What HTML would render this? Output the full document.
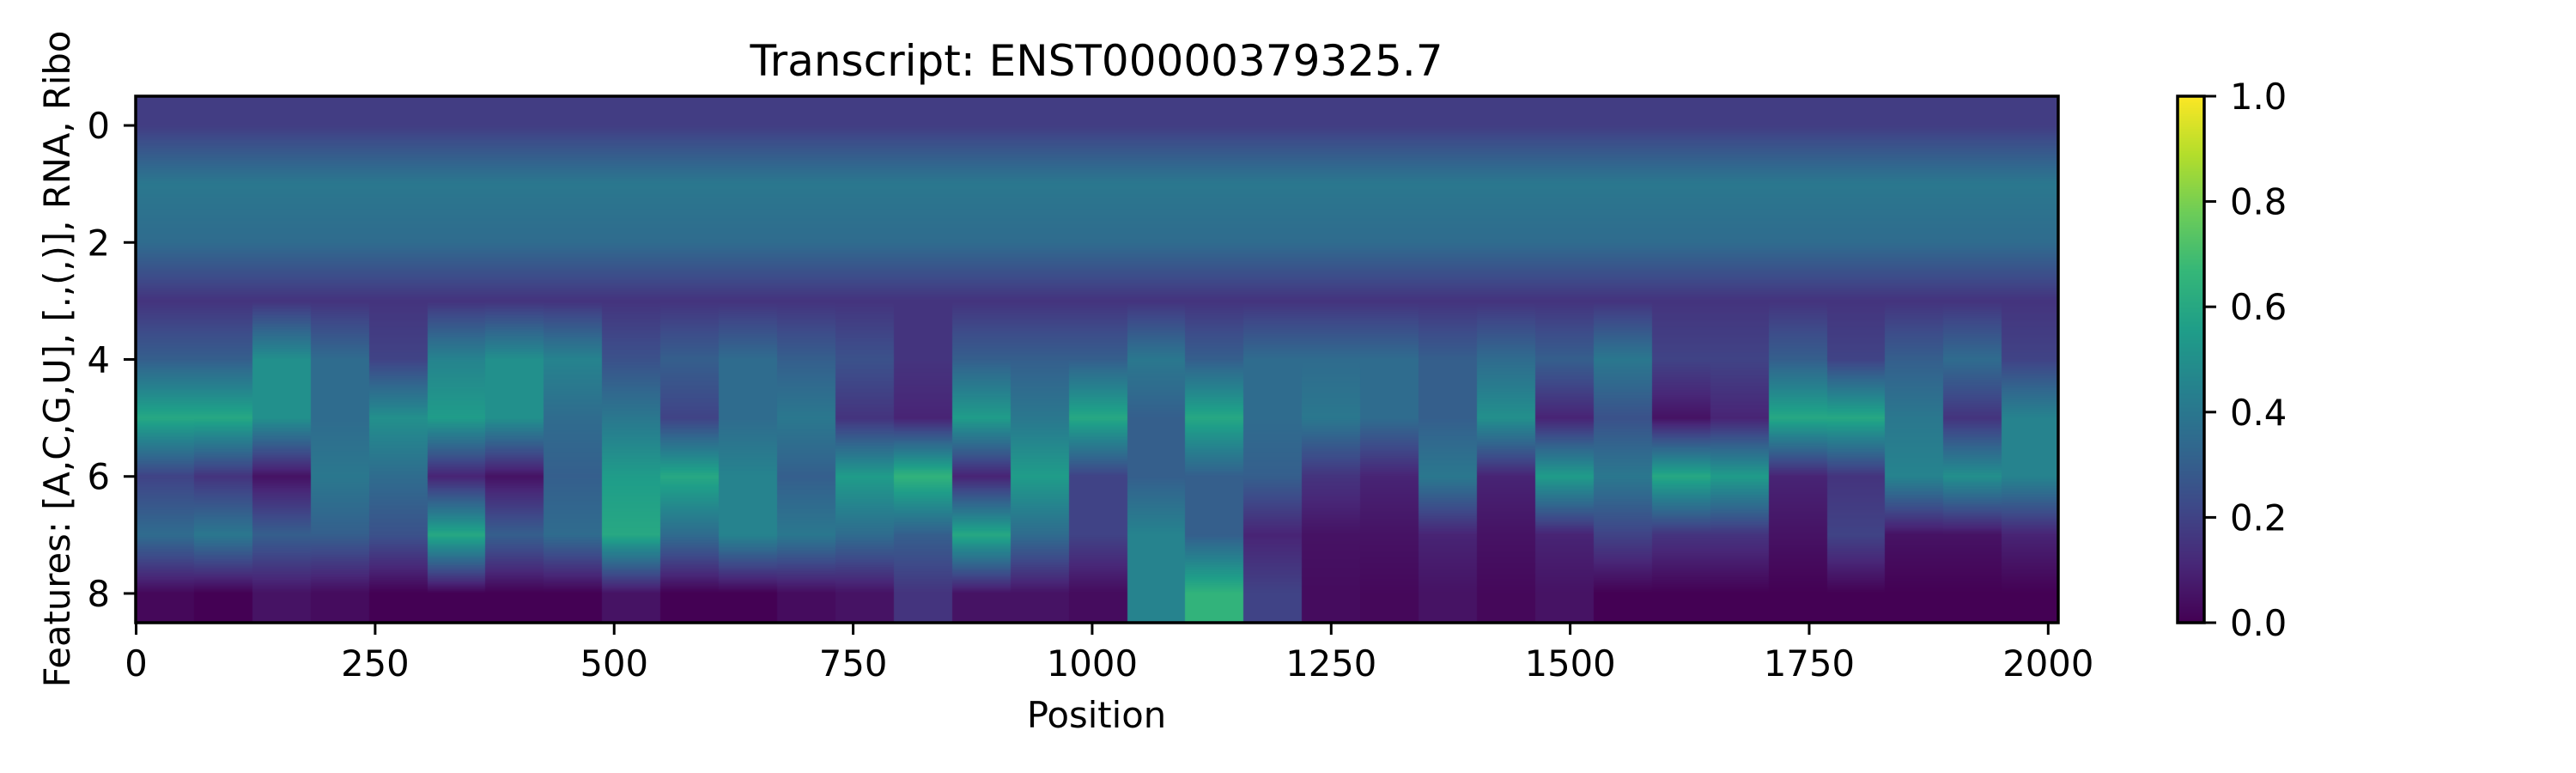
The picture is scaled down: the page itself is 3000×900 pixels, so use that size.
<!DOCTYPE html>
<html><head><meta charset="utf-8">
<style>
body{margin:0;background:#fff;}
#wrap{position:relative;width:3000px;height:900px;overflow:hidden;font-family:"DejaVu Sans","Liberation Sans",sans-serif;color:#000;}
.t{position:absolute;white-space:nowrap;font-size:41.7px;line-height:1;}
</style></head>
<body>
<div id="wrap">
<div class="t" style="left:1277px;top:46px;font-size:50px;transform:translateX(-50%);">Transcript: ENST00000379325.7</div>
<canvas id="hm" width="2239" height="613" style="position:absolute;left:158px;top:112px;"></canvas>
<canvas id="cb" width="31" height="613" style="position:absolute;left:2536px;top:112px;"></canvas>
<svg id="ov" width="3000" height="900" style="position:absolute;left:0;top:0;"></svg>
<div class="t" style="left:1277px;top:812px;transform:translateX(-50%);">Position</div>
<div class="t" style="left:67px;top:418px;transform:translate(-50%,-50%) rotate(-90deg);">Features: [A,C,G,U], [.,(,)], RNA, Ribo</div>
</div>
<script>
// ---- data (segment averages, 61 positions per segment) ----
const nPositions = 2011;
const segSize = 61;
const rowA = [0.18,0.18,0.18,0.18,0.18,0.18,0.18,0.18,0.18,0.18,0.18,0.18,0.18,0.18,0.18,0.18,0.18,0.18,0.18,0.18,0.18,0.18,0.18,0.18,0.18,0.18,0.18,0.18,0.18,0.18,0.18,0.18,0.18];
const rowC = [0.4,0.4,0.4,0.4,0.4,0.4,0.4,0.4,0.4,0.4,0.4,0.4,0.4,0.4,0.4,0.4,0.4,0.4,0.4,0.4,0.4,0.4,0.4,0.4,0.4,0.4,0.4,0.4,0.4,0.4,0.4,0.4,0.4];
const rowG = [0.35,0.35,0.35,0.35,0.35,0.35,0.35,0.35,0.35,0.35,0.35,0.35,0.35,0.35,0.35,0.35,0.35,0.35,0.35,0.35,0.35,0.35,0.35,0.35,0.35,0.35,0.35,0.35,0.35,0.35,0.35,0.35,0.35];
const rowU = [0.15,0.15,0.15,0.15,0.15,0.15,0.15,0.15,0.15,0.15,0.15,0.15,0.15,0.15,0.15,0.15,0.15,0.15,0.15,0.15,0.15,0.15,0.15,0.15,0.15,0.15,0.15,0.15,0.15,0.15,0.15,0.15,0.15];
const rowDot = [0.3,0.3,0.5,0.35,0.2,0.45,0.5,0.45,0.25,0.3,0.35, 0.3,0.25,0.15,0.3,0.3,0.3,0.4,0.3,0.35,0.35,0.35, 0.3,0.35,0.3,0.4,0.2,0.2,0.3,0.2,0.3,0.35,0.2];
const rowOpen = [0.6,0.6,0.5,0.35,0.5,0.55,0.5,0.35,0.4,0.2,0.35, 0.4,0.15,0.1,0.55,0.4,0.6,0.3,0.6,0.35,0.4,0.35, 0.3,0.5,0.1,0.25,0.05,0.1,0.6,0.6,0.4,0.15,0.45];
const rowClose = [0.2,0.15,0.05,0.4,0.35,0.1,0.05,0.3,0.55,0.6,0.45, 0.3,0.55,0.65,0.1,0.55,0.2,0.3,0.3,0.3,0.15,0.1, 0.4,0.1,0.55,0.4,0.6,0.55,0.1,0.15,0.45,0.5,0.45];
const rowRNA = [0.35,0.4,0.3,0.3,0.25,0.6,0.3,0.35,0.6,0.35,0.45, 0.4,0.35,0.3,0.6,0.35,0.2,0.45,0.3,0.1,0.05,0.05, 0.1,0.05,0.1,0.2,0.15,0.15,0.05,0.2,0.05,0.05,0.1];
const rowRibo = [0.02,0,0.05,0.03,0,0,0,0,0.05,0,0, 0.03,0.05,0.15,0.05,0.05,0.03,0.45,0.65,0.2,0.03,0.02, 0.05,0.02,0.05,0,0,0,0,0,0,0,0];
const rows = [rowA,rowC,rowG,rowU,rowDot,rowOpen,rowClose,rowRNA,rowRibo];
const xTicks = [0,250,500,750,1000,1250,1500,1750,2000];
const yTicks = [0,2,4,6,8];
const cbTicks = [0.0,0.2,0.4,0.6,0.8,1.0];

// ---- scales ----
const X0=158, X1=2397, Y0=112, Y1=725;
const xs = v => X0 + (v+0.5)/(nPositions)*(X1-X0);
const ys = r => Y0 + (r+0.5)/9*(Y1-Y0);
const cbY = v => Y1 - v*(Y1-Y0);

const vir=[[68,1,84],[72,40,120],[62,74,137],[49,104,142],[38,130,142],[31,158,137],[53,183,121],[109,205,89],[180,222,44],[253,231,37]];
function cmap(v){v=Math.max(0,Math.min(1,v))*9;const i=Math.min(8,Math.floor(v)),f=v-i;const a=vir[i],b=vir[i+1];return [a[0]+(b[0]-a[0])*f,a[1]+(b[1]-a[1])*f,a[2]+(b[2]-a[2])*f];}

// heatmap
const hc=document.getElementById('hm'),hx=hc.getContext('2d');
const W=hc.width,H=hc.height,img=hx.createImageData(W,H);
for(let px=0;px<W;px++){
  const pos=(px+0.5)/W*nPositions-0.5;
  const s=Math.min(rows[0].length-1,Math.max(0,Math.floor((pos+0.5)/segSize)));
  for(let py=0;py<H;py++){
    let r=(py+0.5)/H*9-0.5; r=Math.max(0,Math.min(8,r));
    const i=Math.min(7,Math.floor(r)),f=r-i;
    const v=rows[i][s]*(1-f)+rows[i+1][s]*f;
    const c=cmap(v),k=(py*W+px)*4;
    img.data[k]=c[0];img.data[k+1]=c[1];img.data[k+2]=c[2];img.data[k+3]=255;
  }
}
hx.putImageData(img,0,0);
// colorbar
const cc=document.getElementById('cb'),cx=cc.getContext('2d');
for(let py=0;py<613;py++){const c=cmap(1-(py+0.5)/613);cx.fillStyle=`rgb(${c[0]|0},${c[1]|0},${c[2]|0})`;cx.fillRect(0,py,31,1);}

// overlay axes
const NS='http://www.w3.org/2000/svg',ov=document.getElementById('ov');
function el(t,a){const e=document.createElementNS(NS,t);for(const k in a)e.setAttribute(k,a[k]);ov.appendChild(e);return e;}
let fr=el('rect',{x:X0,y:Y0,width:X1-X0,height:Y1-Y0,fill:'none',stroke:'#000','stroke-width':3.5});


let cf=el('rect',{x:2536,y:Y0,width:31,height:Y1-Y0,fill:'none',stroke:'#000','stroke-width':3.5});


const font='"DejaVu Sans","Liberation Sans",sans-serif';
xTicks.forEach(v=>{
  const x=xs(v);
  const l=el('line',{x1:x,y1:Y1,x2:x,y2:Y1+14,stroke:'#000','stroke-width':3});
  
  
  const t=el('text',{x:x,y:787,'text-anchor':'middle','font-size':41.7,'font-family':font});
  t.textContent=v;
  
  
});
yTicks.forEach(v=>{
  const y=ys(v);
  const l=el('line',{x1:X0-14,y1:y,x2:X0,y2:y,stroke:'#000','stroke-width':3});
  
  
  const t=el('text',{x:128,y:y+15,'text-anchor':'end','font-size':41.7,'font-family':font});
  t.textContent=v;
  
  
});
cbTicks.forEach(v=>{
  const y=cbY(v);
  const l=el('line',{x1:2567,y1:y,x2:2581,y2:y,stroke:'#000','stroke-width':3});
  
  
  const t=el('text',{x:2597,y:y+15,'font-size':41.7,'font-family':font});
  t.textContent=v.toFixed(1);
  
  
});
</script>
</body></html>
